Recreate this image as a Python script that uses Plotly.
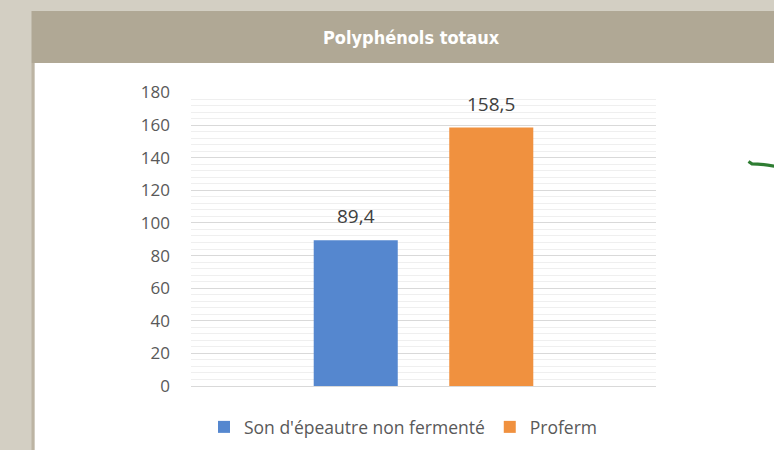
import plotly.graph_objects as go

# ---- data ----
series_names = ["Son d'épeautre non fermenté", "Proferm"]
series_values = [89.4, 158.5]
category = ["Polyphénols totaux"]
title_text = "Polyphénols totaux"
y_ticks = [0, 20, 40, 60, 80, 100, 120, 140, 160, 180]

# ---- styles / layout constants ----
W, H = 774, 450
colors = ["#5587cf", "#f0913f"]
PLOT_X0, PLOT_X1 = 191, 656
PLOT_Y0, PLOT_Y1 = 92.5, 386  # top, bottom (pixels)
BARGAP, BARGROUPGAP = 0.417, 0.38


def px(x):
    return x / W


def py(y):
    return 1 - y / H


fig = go.Figure()
for name, val, col in zip(series_names, series_values, colors):
    fig.add_trace(go.Bar(
        x=category, y=[val], name=name,
        marker=dict(color=col, line=dict(width=0)),
        hoverinfo="name+y",
    ))

# value labels above bars (placed via the library's category axis, shifted to the group slot)
plot_w = PLOT_X1 - PLOT_X0
slot = plot_w * (1 - BARGAP) / len(series_values)
annotations = []
for i, val in enumerate(series_values):
    shift = (i - (len(series_values) - 1) / 2) * slot
    annotations.append(dict(
        x=category[0], y=val, xref="x", yref="y",
        text=f"{val:.1f}".replace(".", ","),
        showarrow=False, xanchor="center", yanchor="bottom",
        xshift=shift, yshift=9,
        font=dict(family="Open Sans", size=19, color="#404040"),
    ))

annotations.append(dict(
    text=f"<b>{title_text}</b>", xref="paper", yref="paper",
    x=px(411), y=py(38), xanchor="center", yanchor="middle", showarrow=False,
    font=dict(family="DejaVu Sans Condensed, Roboto Condensed, Arial Narrow, sans-serif",
              size=18, color="#ffffff"),
))

shapes = [
    # white panel
    dict(type="rect", xref="paper", yref="paper", x0=px(34.5), x1=px(W + 5), y0=py(H + 5), y1=py(63),
         fillcolor="#ffffff", line=dict(width=0), layer="below"),
    # left stripe
    dict(type="rect", xref="paper", yref="paper", x0=px(31.5), x1=px(34.5), y0=py(H + 5), y1=py(63),
         fillcolor="#bcb4a3", line=dict(width=0), layer="below"),
    # title bar
    dict(type="rect", xref="paper", yref="paper", x0=px(31.5), x1=px(W + 5), y0=py(63), y1=py(11),
         fillcolor="#b0a895", line=dict(width=0), layer="below"),
    # green hand-drawn stroke
    dict(type="path", xref="paper", yref="paper",
         path=f"M {px(748.5)},{py(161.5)} L {px(752)},{py(163.8)} Q {px(762)},{py(164)} {px(776)},{py(166.5)}",
         line=dict(color="#2e7d32", width=3.2), layer="above"),
]

fig.update_layout(
    width=W, height=H,
    margin=dict(l=0, r=0, t=0, b=0, pad=0),
    paper_bgcolor="#d3cfc3",
    plot_bgcolor="rgba(0,0,0,0)",
    barmode="group",
    bargap=BARGAP,
    bargroupgap=BARGROUPGAP,
    shapes=shapes,
    annotations=annotations,
    showlegend=True,
    legend=dict(orientation="h", x=px(204), xanchor="left", y=py(427), yanchor="middle",
                font=dict(family="Open Sans", size=17.5, color="#595959"),
                bgcolor="rgba(0,0,0,0)", itemclick=False),
    xaxis=dict(domain=[px(PLOT_X0), px(PLOT_X1)], showticklabels=False, showgrid=False,
               showline=True, linecolor="#d9d9d9", linewidth=1, zeroline=False,
               fixedrange=True, automargin=False),
    yaxis=dict(domain=[py(PLOT_Y1), py(PLOT_Y0)], range=[0, 180], tickvals=y_ticks,
               showgrid=True, gridcolor="#d9d9d9", gridwidth=1,
               minor=dict(dtick=4, showgrid=True, gridcolor="#efefef", gridwidth=1),
               zeroline=False, showline=False,
               tickfont=dict(family="Open Sans", size=17, color="#595959"),
               ticklabelstandoff=20, fixedrange=True, automargin=False),
)

fig.write_html("out.html", config={"displayModeBar": False},
               post_script="document.body.style.margin='0px';")
